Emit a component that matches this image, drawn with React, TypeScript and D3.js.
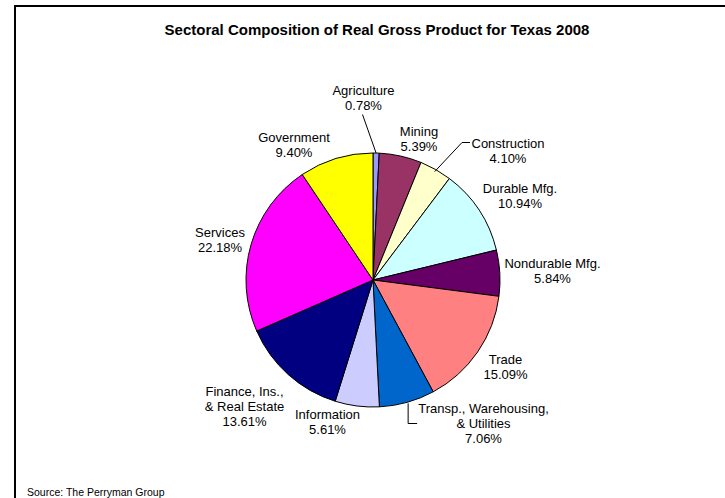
import React from "react";
import * as d3 from "d3";

const sectors = [
  "Agriculture",
  "Mining",
  "Construction",
  "Durable Mfg.",
  "Nondurable Mfg.",
  "Trade",
  "Transp., Warehousing, & Utilities",
  "Information",
  "Finance, Ins., & Real Estate",
  "Services",
  "Government",
];
const labelLines = [
  ["Agriculture"],
  ["Mining"],
  ["Construction"],
  ["Durable Mfg."],
  ["Nondurable Mfg."],
  ["Trade"],
  ["Transp., Warehousing,", "& Utilities"],
  ["Information"],
  ["Finance, Ins.,", "& Real Estate"],
  ["Services"],
  ["Government"],
];
const shares = [0.78, 5.39, 4.1, 10.94, 5.84, 15.09, 7.06, 5.61, 13.61, 22.18, 9.4];
const colors = [
  "#9999FF",
  "#993366",
  "#FFFFCC",
  "#CCFFFF",
  "#660066",
  "#FF8080",
  "#0066CC",
  "#CCCCFF",
  "#000080",
  "#FF00FF",
  "#FFFF00",
];
// label block centre offsets from the pie centre (layout)
const labelOffsets: [number, number][] = [
  [-9.5, -182],
  [46, -141.5],
  [135, -129],
  [147, -84],
  [179.5, -9],
  [132.5, 87],
  [110.5, 143.5],
  [-45.5, 142],
  [-128.5, 126.7],
  [-153, -40],
  [-79, -135.5],
];
// leader-line style per label
const leaderType = ["straight", "none", "bend", "none", "none", "none", "elbow", "none", "none", "none", "none"];

const TITLE = "Sectoral Composition of Real Gross Product for Texas 2008";
const SOURCE = "Source: The Perryman Group";

export default function App() {
  const W = 725;
  const H = 498;
  const cx = 373;
  const cy = 280;
  const R = 127;
  const fontSize = 13;
  const lineH = 15;

  const pie = d3
    .pie<number>()
    .sort(null)
    .value((d) => d)
    .startAngle(0)
    .endAngle(2 * Math.PI);
  const arcs = pie(shares);
  const arcGen = d3.arc<d3.PieArcDatum<number>>().innerRadius(0).outerRadius(R);

  const fmt = (v: number) => v.toFixed(2) + "%";

  return (
    <svg
      width={W}
      height={H}
      style={{ position: "absolute", left: 0, top: 0, display: "block", background: "#fff" }}
      fontFamily="Arial, 'Liberation Sans', sans-serif"
    >
      <rect x={0} y={0} width={W} height={H} fill="#fff" />
      <line x1={15} y1={6} x2={W} y2={6} stroke="#000" strokeWidth={2} />
      <line x1={15} y1={5} x2={15} y2={H} stroke="#000" strokeWidth={2} />
      <text x={377} y={35} textAnchor="middle" fontSize={15} fontWeight="bold" fill="#000">
        {TITLE}
      </text>
      <g transform={`translate(${cx},${cy})`}>
        {arcs.map((a, i) => (
          <path key={sectors[i]} d={arcGen(a) || ""} fill={colors[i]} stroke="#000" strokeWidth={1} />
        ))}
        {arcs.map((a, i) => {
          const [ox, oy] = labelOffsets[i];
          const lines = [...labelLines[i], fmt(shares[i])];
          const n = lines.length;
          const mid = (a.startAngle + a.endAngle) / 2;
          const ex = Math.sin(mid) * R;
          const ey = -Math.cos(mid) * R;
          const top = oy - ((n - 1) * lineH) / 2;
          let leader: string | null = null;
          if (leaderType[i] === "straight") {
            leader = `M${ox - 1},${top + (n - 1) * lineH + 9}L${ex},${ey}`;
          } else if (leaderType[i] === "bend") {
            const left = ox - 36;
            const yl = top - 1;
            leader = `M${ex - 1},${ey + 2}L${left - 10},${yl}L${left - 2},${yl}`;
          } else if (leaderType[i] === "elbow") {
            const yl = top + lineH;
            leader = `M${ex + 1},${ey + 1}L${ex + 1},${yl}L${ex + 10},${yl}`;
          }
          return (
            <g key={"l" + sectors[i]}>
              {leader && <path d={leader} fill="none" stroke="#000" strokeWidth={1} />}
              <text textAnchor="middle" fontSize={fontSize} fill="#000">
                {lines.map((t, j) => (
                  <tspan key={j} x={ox} y={top + j * lineH + 4.5}>
                    {t}
                  </tspan>
                ))}
              </text>
            </g>
          );
        })}
      </g>
      <text x={27} y={496} fontSize={10.5} fill="#000">
        {SOURCE}
      </text>
    </svg>
  );
}
